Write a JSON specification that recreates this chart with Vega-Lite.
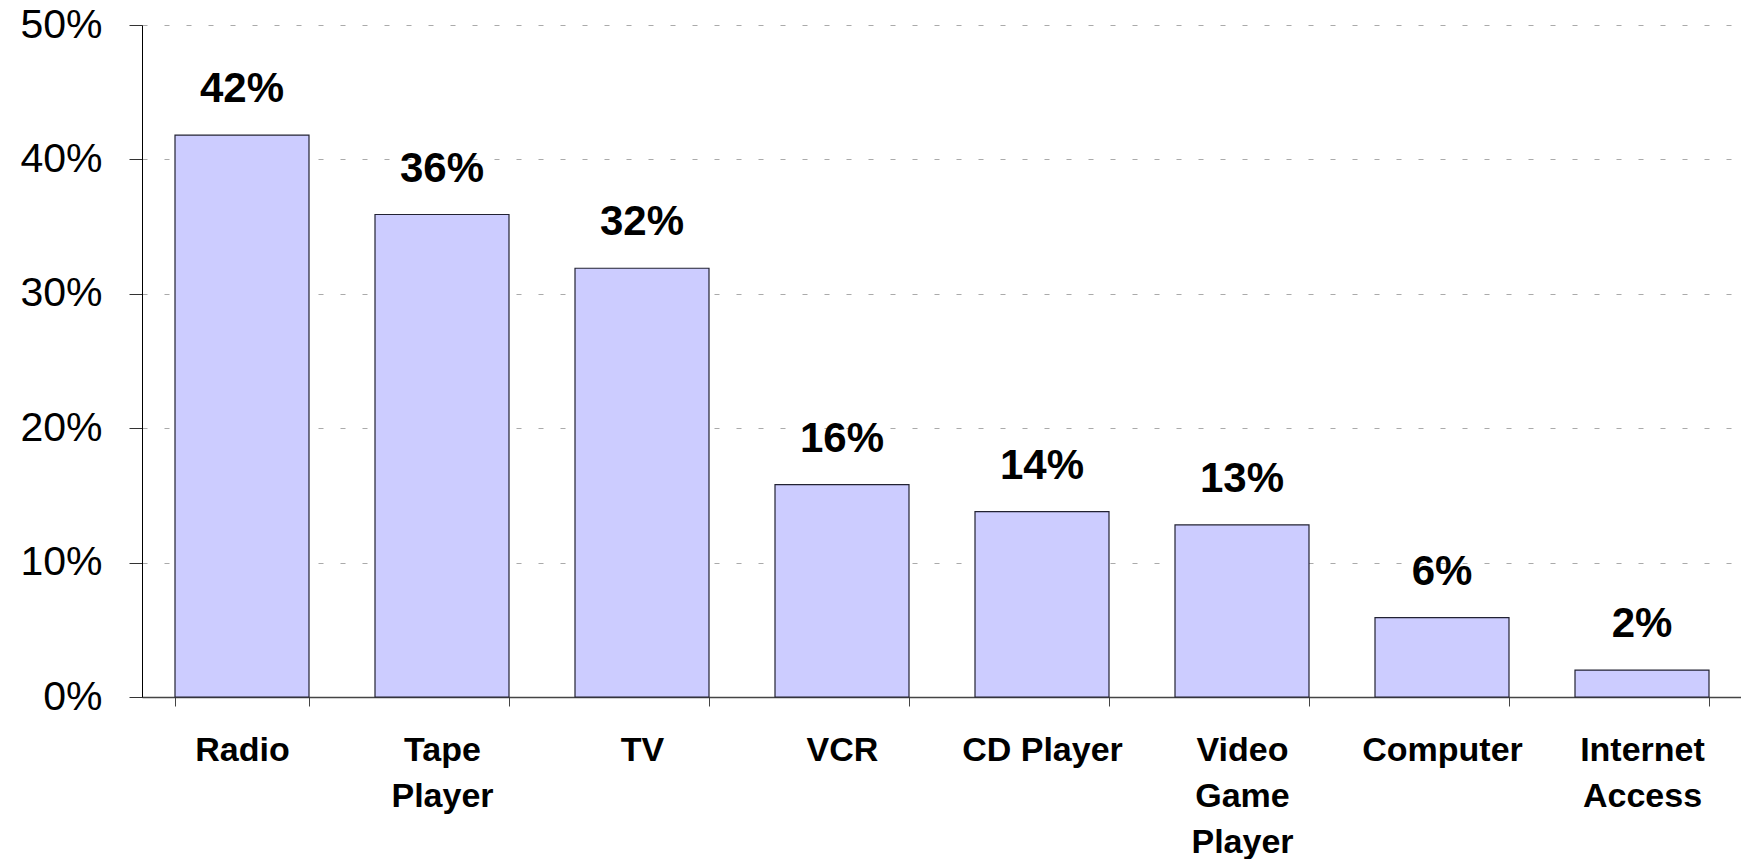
{
  "$schema": "https://vega.github.io/schema/vega-lite/v6.json",
  "width": 1600,
  "height": 672,
  "autosize": {"type": "none"},
  "padding": {"left": 142, "top": 25, "right": 0, "bottom": 162},
  "background": "white",
  "config": {"view": {"stroke": null}, "font": "Liberation Sans"},
  "data": {
    "values": [
      {"device": "Radio", "share": 0.418},
      {"device": "Tape Player", "share": 0.359},
      {"device": "TV", "share": 0.319},
      {"device": "VCR", "share": 0.158},
      {"device": "CD Player", "share": 0.138},
      {"device": "Video Game Player", "share": 0.128},
      {"device": "Computer", "share": 0.059},
      {"device": "Internet Access", "share": 0.02}
    ]
  },
  "encoding": {
    "x": {
      "field": "device",
      "type": "nominal",
      "sort": null,
      "scale": {"paddingInner": 0.33, "paddingOuter": 0.165},
      "axis": {
        "title": null,
        "labelAngle": 0,
        "labelFont": "Liberation Sans",
        "labelFontSize": 34,
        "labelFontWeight": "bold",
        "labelColor": "black",
        "labelPadding": 27,
        "labelLineHeight": 46,
        "labelBaseline": "top",
        "labelExpr": "!isString(datum.value) ? '' : (datum.value == 'CD Player' ? datum.value : split(datum.value, ' '))",
        "tickBand": "extent",
        "tickSize": 9,
        "tickColor": "#444444",
        "domainColor": "#444444",
        "domainWidth": 1.5,
        "grid": false
      }
    },
    "y": {
      "field": "share",
      "type": "quantitative",
      "scale": {"domain": [0, 0.5], "nice": false},
      "axis": {
        "title": null,
        "values": [0, 0.1, 0.2, 0.3, 0.4, 0.5],
        "format": ".0%",
        "labelFont": "Liberation Sans",
        "labelFontSize": 41,
        "labelColor": "black",
        "labelPadding": 27,
        "tickSize": 13,
        "tickColor": "#333333",
        "domainColor": "black",
        "grid": true,
        "gridColor": "#aaaaaa",
        "gridDash": [5, 17],
        "gridWidth": 1.2
      }
    }
  },
  "layer": [
    {
      "mark": {"type": "bar", "fill": "#CCCCFF", "stroke": "#222233", "strokeWidth": 1.2}
    },
    {
      "mark": {
        "type": "text",
        "font": "Liberation Sans",
        "fontSize": 42,
        "fontWeight": "bold",
        "color": "black",
        "baseline": "alphabetic",
        "dy": -33
      },
      "encoding": {
        "text": {"field": "share", "type": "quantitative", "format": ".0%"}
      }
    }
  ]
}
